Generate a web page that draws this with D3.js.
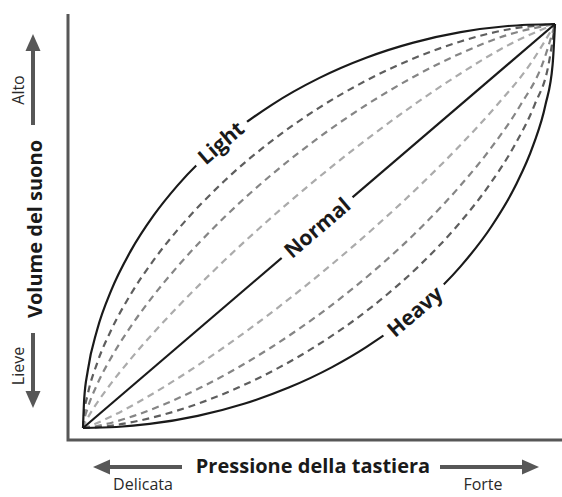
<!DOCTYPE html>
<html>
<head>
<meta charset="utf-8">
<script src="https://cdn.jsdelivr.net/npm/d3@7"></script>
<style>
  html, body { margin: 0; padding: 0; background: #fff; }
  svg { display: block; }
  text { font-family: "Open Sans", "DejaVu Sans", sans-serif; }
</style>
</head>
<body>
<svg id="chart" width="562" height="497"></svg>
<script>
// ---- Data (normalised 0..1: pressure on x, volume on y) ----
const pressureGrid = [0, 0.0025, 0.01, 0.03, 0.06, 0.1, 0.15, 0.2, 0.3, 0.4, 0.5, 0.6, 0.7, 0.8, 0.9, 1];
// upper curves: volume at each pressure level
const lightVolume    = [0, 0.0707, 0.1411, 0.2431, 0.3412, 0.4359, 0.5268, 0.6000, 0.7141, 0.8000, 0.8660, 0.9165, 0.9539, 0.9798, 0.9950, 1];
const softDarkVolume = [0, 0.0358, 0.0829, 0.1608, 0.2432, 0.3288, 0.4160, 0.4898, 0.6120, 0.7109, 0.7925, 0.8599, 0.9145, 0.9568, 0.9864, 1];
const softMidVolume  = [0, 0.0188, 0.0499, 0.1079, 0.1749, 0.2491, 0.3288, 0.3993, 0.5221, 0.6275, 0.7193, 0.7995, 0.8689, 0.9272, 0.9731, 1];
const softLiteVolume = [0, 0.0079, 0.0251, 0.0625, 0.1111, 0.1694, 0.2364, 0.2990, 0.4151, 0.5219, 0.6211, 0.7136, 0.7992, 0.8776, 0.9471, 1];
const normalPressure = [0, 1];
const normalVolume   = [0, 1];
// lower curves: pressure needed at each volume level
const volumeGrid = [0, 0.0025, 0.01, 0.03, 0.06, 0.1, 0.15, 0.2, 0.3, 0.4, 0.5, 0.6, 0.7, 0.8, 0.9, 1];
const hardLitePressure = [0, 0.0079, 0.0251, 0.0625, 0.1111, 0.1694, 0.2364, 0.2990, 0.4151, 0.5219, 0.6211, 0.7136, 0.7992, 0.8776, 0.9471, 1];
const hardMidPressure  = [0, 0.0188, 0.0499, 0.1079, 0.1749, 0.2491, 0.3288, 0.3993, 0.5221, 0.6275, 0.7193, 0.7995, 0.8689, 0.9272, 0.9731, 1];
const hardDarkPressure = [0, 0.0358, 0.0829, 0.1608, 0.2432, 0.3288, 0.4160, 0.4898, 0.6120, 0.7109, 0.7925, 0.8599, 0.9145, 0.9568, 0.9864, 1];
const heavyPressure    = [0, 0.0707, 0.1411, 0.2431, 0.3412, 0.4359, 0.5268, 0.6000, 0.7141, 0.8000, 0.8660, 0.9165, 0.9539, 0.9798, 0.9950, 1];

const curveLabels = ["Light", "Normal", "Heavy"];
const labelPressure = [0.292, 0.496, 0.703];
const axisTitleX = "Pressione della tastiera";
const axisTitleY = "Volume del suono";
const xEndLabels = ["Delicata", "Forte"];
const yEndLabels = ["Lieve", "Alto"];

// ---- Setup ----
const svg = d3.select("#chart");
const x = d3.scaleLinear().domain([0, 1]).range([83, 555]);
const y = d3.scaleLinear().domain([0, 1]).range([428, 24]);
const axisColor = "#575757";

const zip = (xs, ys) => xs.map((v, i) => [v, ys[i]]);
const series = [
  { pts: zip(pressureGrid, lightVolume),    color: "#1a1a1a", dash: null, label: 0 },
  { pts: zip(pressureGrid, softDarkVolume), color: "#5e5e5e", dash: "7,5" },
  { pts: zip(pressureGrid, softMidVolume),  color: "#858585", dash: "7,5" },
  { pts: zip(pressureGrid, softLiteVolume), color: "#ababab", dash: "7,5" },
  { pts: zip(normalPressure, normalVolume), color: "#1a1a1a", dash: null, label: 1 },
  { pts: zip(hardLitePressure, volumeGrid), color: "#ababab", dash: "7,5" },
  { pts: zip(hardMidPressure, volumeGrid),  color: "#858585", dash: "7,5" },
  { pts: zip(hardDarkPressure, volumeGrid), color: "#5e5e5e", dash: "7,5" },
  { pts: zip(heavyPressure, volumeGrid),    color: "#1a1a1a", dash: null, label: 2 }
];

const line = d3.line().x(d => x(d[0])).y(d => y(d[1])).curve(d3.curveMonotoneX);

// frame
svg.append("path")
  .attr("d", "M68,14V440H562")
  .attr("fill", "none").attr("stroke", axisColor).attr("stroke-width", 3);

// curves (dashed first, solids on top)
const order = [1, 2, 3, 5, 6, 7, 0, 4, 8];
const paths = {};
order.forEach(i => {
  const s = series[i];
  const p = svg.append("path")
    .attr("d", line(s.pts))
    .attr("fill", "none")
    .attr("stroke", s.color)
    .attr("stroke-width", 2.2)
    .attr("stroke-dasharray", s.dash);
  paths[i] = p.node();
});

// labels on solid curves
series.forEach((s, i) => {
  if (s.label === undefined) return;
  const node = paths[i];
  const total = node.getTotalLength();
  const tx = x(labelPressure[s.label]);
  let lo = 0, hi = total;
  for (let k = 0; k < 40; k++) {
    const mid = (lo + hi) / 2;
    if (node.getPointAtLength(mid).x < tx) lo = mid; else hi = mid;
  }
  const L = (lo + hi) / 2;
  const p = node.getPointAtLength(L);
  const a = node.getPointAtLength(Math.max(0, L - 3));
  const b = node.getPointAtLength(Math.min(total, L + 3));
  const ang = Math.atan2(b.y - a.y, b.x - a.x) * 180 / Math.PI;
  const g = svg.append("g").attr("transform", `translate(${p.x},${p.y}) rotate(${ang})`);
  const rect = g.append("rect").attr("fill", "#fff");
  const t = g.append("text")
    .attr("text-anchor", "middle")
    .attr("dy", "0.36em")
    .attr("font-size", 21)
    .attr("font-weight", "bold")
    .attr("fill", "#1a1a1a")
    .text(curveLabels[s.label]);
  const w = t.node().getComputedTextLength() + 14;
  rect.attr("x", -w / 2).attr("y", -7).attr("width", w).attr("height", 14);
  t.raise();
});

// arrows helper
function arrow(x1, y1, x2, y2) {
  const ang = Math.atan2(y2 - y1, x2 - x1);
  const headLen = 17, headHalf = 7.5;
  const bx = x2 - headLen * Math.cos(ang), by = y2 - headLen * Math.sin(ang);
  svg.append("line")
    .attr("x1", x1).attr("y1", y1)
    .attr("x2", bx + 2 * Math.cos(ang)).attr("y2", by + 2 * Math.sin(ang))
    .attr("stroke", axisColor).attr("stroke-width", 4);
  const nx = -Math.sin(ang), ny = Math.cos(ang);
  svg.append("path")
    .attr("d", `M${x2},${y2}L${bx + nx * headHalf},${by + ny * headHalf}L${bx - nx * headHalf},${by - ny * headHalf}Z`)
    .attr("fill", axisColor);
}

// Y axis decorations
arrow(33, 125, 33, 34);
arrow(33, 333, 33, 408);
svg.append("text")
  .attr("transform", "translate(35,229) rotate(-90)")
  .attr("text-anchor", "middle").attr("dy", "0.35em")
  .attr("font-size", 20).attr("font-weight", "bold").attr("fill", "#1a1a1a")
  .text(axisTitleY);
svg.append("text")
  .attr("transform", "translate(18,90) rotate(-90)")
  .attr("text-anchor", "middle").attr("dy", "0.35em")
  .attr("font-size", 16).attr("fill", "#2a2a2a")
  .text(yEndLabels[1]);
svg.append("text")
  .attr("transform", "translate(18,366) rotate(-90)")
  .attr("text-anchor", "middle").attr("dy", "0.35em")
  .attr("font-size", 16).attr("fill", "#2a2a2a")
  .text(yEndLabels[0]);

// X axis decorations
arrow(182, 467, 93, 467);
arrow(440, 467, 539, 467);
svg.append("text")
  .attr("x", 313).attr("y", 473)
  .attr("text-anchor", "middle")
  .attr("font-size", 20).attr("font-weight", "bold").attr("fill", "#1a1a1a")
  .text(axisTitleX);
svg.append("text")
  .attr("x", 143).attr("y", 490)
  .attr("text-anchor", "middle")
  .attr("font-size", 16).attr("fill", "#2a2a2a")
  .text(xEndLabels[0]);
svg.append("text")
  .attr("x", 483).attr("y", 490)
  .attr("text-anchor", "middle")
  .attr("font-size", 16).attr("fill", "#2a2a2a")
  .text(xEndLabels[1]);
</script>
</body>
</html>
